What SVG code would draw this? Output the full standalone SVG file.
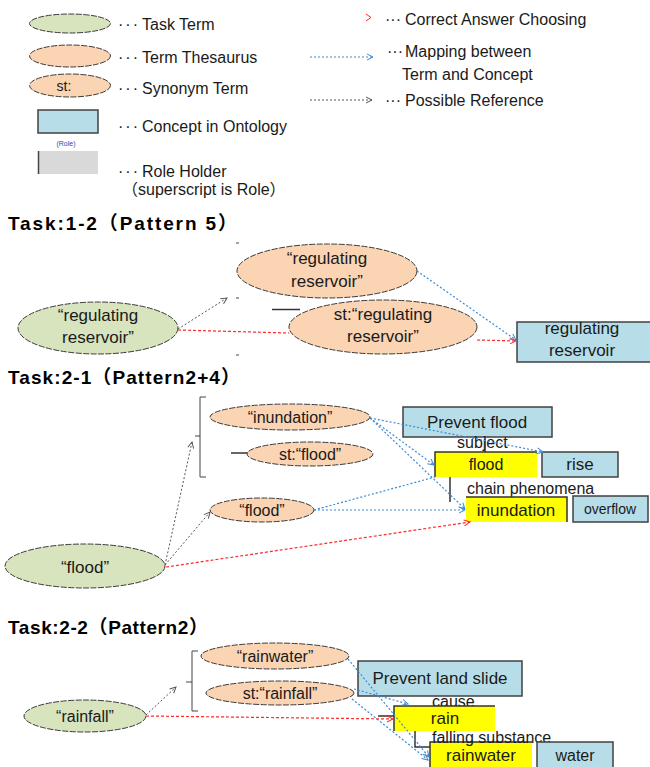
<svg xmlns="http://www.w3.org/2000/svg" width="650" height="767" viewBox="0 0 650 767">
<defs>
<style>
.t{font-family:"Liberation Sans","Noto Sans CJK JP",sans-serif;fill:#1a1a1a}
.s16{font-size:16px}.s17{font-size:17px}.s15{font-size:15px}.s14{font-size:14px}
.mid{text-anchor:middle}
.title{font-weight:bold;font-size:19px;fill:#000}
.task{fill:#d7e4bd;stroke:#3a3a3a;stroke-width:1;stroke-dasharray:6 1.5}
.thes{fill:#fbd4b4;stroke:#3a3a3a;stroke-width:1;stroke-dasharray:6 1.5}
.concept{fill:#b7dee8;stroke:#404040;stroke-width:1.5}
.holder{fill:#ffff00}
.edge{fill:none;stroke:#333;stroke-width:1.5}
.brk{fill:none;stroke:#444;stroke-width:1}
.ref{fill:none;stroke:#555;stroke-width:1;stroke-dasharray:2 2}
.map{fill:none;stroke:#3b8ad8;stroke-width:1.2;stroke-dasharray:2 2}
.ans{fill:none;stroke:#ff2a2a;stroke-width:1.2;stroke-dasharray:3 2}
</style>
<marker id="ag" viewBox="0 0 8 8" refX="7" refY="4" markerWidth="8" markerHeight="8" orient="auto" markerUnits="userSpaceOnUse"><path d="M1,1 L7,4 L1,7" fill="none" stroke="#555" stroke-width="1"/></marker>
<marker id="ab" viewBox="0 0 8 8" refX="7" refY="4" markerWidth="8" markerHeight="8" orient="auto" markerUnits="userSpaceOnUse"><path d="M1,1 L7,4 L1,7" fill="none" stroke="#3b8ad8" stroke-width="1"/></marker>
<marker id="ar" viewBox="0 0 8 8" refX="7" refY="4" markerWidth="8" markerHeight="8" orient="auto" markerUnits="userSpaceOnUse"><path d="M1,1 L7,4 L1,7" fill="none" stroke="#ff2a2a" stroke-width="1"/></marker>
</defs>
<rect width="650" height="767" fill="#ffffff"/>

<!-- Legend -->
<g id="legend">
<ellipse class="task" cx="70" cy="23.5" rx="40.5" ry="9.5"/>
<text class="t s16" x="118" y="30"><tspan letter-spacing="2">···</tspan><tspan x="142">Task Term</tspan></text>
<ellipse class="thes" cx="70" cy="56" rx="40.5" ry="11"/>
<text class="t s16" x="118" y="63"><tspan letter-spacing="2">···</tspan><tspan x="142">Term Thesaurus</tspan></text>
<ellipse class="thes" cx="70" cy="85.5" rx="40.5" ry="11.5"/>
<text class="t s14 mid" x="64" y="91">st:</text>
<text class="t s16" x="118" y="94"><tspan letter-spacing="2">···</tspan><tspan x="142">Synonym Term</tspan></text>
<rect class="concept" x="38" y="110" width="60" height="23"/>
<text class="t s16" x="118" y="132"><tspan letter-spacing="2">···</tspan><tspan x="142">Concept in Ontology</tspan></text>
<text class="t mid" x="66" y="146" style="font-size:7px;fill:#2a4aa8">(Role)</text>
<rect x="38" y="151" width="60" height="23" fill="#d9d9d9"/>
<path d="M38.5,151 L38.5,174" stroke="#444" stroke-width="1.5"/>
<text class="t s16" x="118" y="177"><tspan letter-spacing="2">···</tspan><tspan x="142">Role Holder</tspan></text>
<text class="t s16" x="122" y="195">（superscript is Role）</text>
<path d="M366,14 L371,17.5 L366,21" fill="none" stroke="#ff2a2a" stroke-width="1"/>
<text class="t s16" x="385" y="25">···<tspan x="405">Correct Answer Choosing</tspan></text>
<path class="map" d="M310,57 L373,57" marker-end="url(#ab)"/>
<text class="t s16" x="387" y="57">···<tspan x="405">Mapping between</tspan></text>
<text class="t s16" x="402" y="80">Term and Concept</text>
<path class="ref" d="M310,100 L372,100" marker-end="url(#ag)"/>
<text class="t s16" x="385" y="106">···<tspan x="405">Possible Reference</tspan></text>
</g>

<!-- Titles -->
<text class="t title" x="8" y="230" textLength="229" lengthAdjust="spacing">Task:1-2（Pattern 5）</text>
<text class="t title" x="8" y="384" textLength="232" lengthAdjust="spacing">Task:2-1（Pattern2+4）</text>
<text class="t title" x="8" y="634" textLength="200" lengthAdjust="spacing">Task:2-2（Pattern2）</text>

<!-- Task 1-2 -->
<g id="t12-bracket-marks">
<path class="brk" d="M236,243 L239,243 M236,298 L239,298 M236,355 L239,355"/>
<path class="edge" d="M272,309.5 L300,309.5"/>
</g>
<g id="t12-task">
<ellipse class="task" cx="98" cy="328" rx="80" ry="26"/>
<text class="t s17 mid" x="98" y="321">“regulating</text>
<text class="t s17 mid" x="98" y="343">reservoir”</text>
</g>
<g id="t12-thes">
<ellipse class="thes" cx="327" cy="271" rx="90" ry="27"/>
<text class="t s17 mid" x="327" y="264">“regulating</text>
<text class="t s17 mid" x="327" y="287">reservoir”</text>
</g>
<g id="t12-syn">
<ellipse class="thes" cx="383" cy="327" rx="94" ry="27"/>
<text class="t s17 mid" x="383" y="320">st:“regulating</text>
<text class="t s17 mid" x="383" y="342">reservoir”</text>
</g>
<g id="t12-concept">
<rect class="concept" x="517" y="322" width="135" height="40"/>
<text class="t s17 mid" x="582" y="334">regulating</text>
<text class="t s17 mid" x="582" y="356">reservoir</text>
</g>

<!-- Task 2-1 -->
<g id="t21-bracket">
<path class="brk" d="M206,397 L200,397 L200,477 L206,477 M200,436 L195,436"/>
<path class="edge" d="M231,453 L248,453"/>
</g>
<g id="t21-task">
<ellipse class="task" cx="85" cy="566" rx="80" ry="22"/>
<text class="t s17 mid" x="85" y="573">“flood”</text>
</g>
<g id="t21-thes-inundation">
<ellipse class="thes" cx="290" cy="417" rx="80" ry="13"/>
<text class="t s16 mid" x="290" y="423">“inundation”</text>
</g>
<g id="t21-syn-flood">
<ellipse class="thes" cx="310" cy="454" rx="63" ry="12"/>
<text class="t s16 mid" x="310" y="460">st:“flood”</text>
</g>
<g id="t21-thes-flood">
<ellipse class="thes" cx="262" cy="510" rx="52" ry="12"/>
<text class="t s16 mid" x="262" y="516">“flood”</text>
</g>
<g id="t21-prevent">
<rect class="concept" x="403" y="407" width="149" height="30"/>
<text class="t s17 mid" x="477" y="428">Prevent flood</text>
</g>
<text class="t s16" x="457" y="448">subject</text>
<path class="edge" d="M485,437 L485,452"/>
<g id="t21-flood">
<rect class="holder" x="435" y="452" width="102" height="25"/>
<path class="edge" d="M435,477 L435,452 L537,452"/>
<text class="t s16 mid" x="486" y="470">flood</text>
</g>
<g id="t21-rise">
<rect class="concept" x="542" y="452" width="76" height="25"/>
<text class="t s17 mid" x="580" y="470">rise</text>
</g>
<path class="edge" d="M450,477 L450,502"/>
<text class="t s16" x="467" y="494">chain phenomena</text>
<g id="t21-inundation">
<rect class="holder" x="466" y="497" width="101" height="25"/>
<path class="edge" d="M466,497 L567,497 L567,522"/>
<text class="t s17 mid" x="516" y="516">inundation</text>
</g>
<g id="t21-overflow">
<rect class="concept" x="573" y="496" width="75" height="26"/>
<text class="t s14 mid" x="610" y="514">overflow</text>
</g>

<!-- Task 2-2 -->
<g id="t22-bracket">
<path class="brk" d="M198,651 L192,651 L192,711 L198,711 M192,682 L186,682"/>
</g>
<g id="t22-task">
<ellipse class="task" cx="85" cy="716" rx="61" ry="16"/>
<text class="t s16 mid" x="85" y="722">“rainfall”</text>
</g>
<g id="t22-thes-rainwater">
<ellipse class="thes" cx="275" cy="656" rx="74" ry="13"/>
<text class="t s16 mid" x="275" y="662">“rainwater”</text>
</g>
<g id="t22-syn-rainfall">
<ellipse class="thes" cx="280" cy="693" rx="74" ry="12"/>
<text class="t s16 mid" x="280" y="699">st:“rainfall”</text>
</g>
<g id="t22-prevent">
<rect class="concept" x="358" y="661" width="164" height="35"/>
<text class="t s17 mid" x="440" y="684">Prevent land slide</text>
</g>
<text class="t s16" x="432" y="707">cause</text>
<g id="t22-rain">
<rect class="holder" x="394" y="706" width="101" height="25"/>
<path class="edge" d="M394,731 L394,706 L495,706"/>
<text class="t s17 mid" x="445" y="724">rain</text>
</g>
<path class="edge" d="M378,716 L394,716 M415,731 L415,747 L430,747"/>
<g id="t22-rainwater">
<rect class="holder" x="430" y="742" width="102" height="25"/>
<path class="edge" d="M430,767 L430,742 L532,742"/>
<text class="t s17 mid" x="481" y="761">rainwater</text>
</g>
<text class="t s16" x="432" y="743">falling substance</text>
<g id="t22-water">
<rect class="concept" x="537" y="742" width="76" height="26"/>
<text class="t s16 mid" x="575" y="761">water</text>
</g>

<!-- Connectors -->
<g id="connectors">
<path class="ref" d="M178,329 L227,298" marker-end="url(#ag)"/>
<path class="ans" d="M178,330 L289,333"/>
<path class="ans" d="M477,340 L516,341" marker-end="url(#ar)"/>
<path class="map" d="M417,271 L516,340" marker-end="url(#ab)"/>

<path class="ref" d="M165,565 L192,442" marker-end="url(#ag)"/>
<path class="ref" d="M165,565 L210,512" marker-end="url(#ag)"/>
<path class="ans" d="M166,567 L470,522" marker-end="url(#ar)"/>
<path class="map" d="M370,418 L543,452" marker-end="url(#ab)"/>
<path class="map" d="M370,418 L434,465" marker-end="url(#ab)"/>
<path class="map" d="M370,418 L465,509" marker-end="url(#ab)"/>
<path class="map" d="M314,510 L435,477"/>
<path class="map" d="M314,510 L465,510" marker-end="url(#ab)"/>

<path class="ref" d="M146,715 L176,687" marker-end="url(#ag)"/>
<path class="ans" d="M146,716 L393,719" marker-end="url(#ar)"/>
<path class="map" d="M348,659 L429,757" marker-end="url(#ab)"/>
<path class="map" d="M354,689 L408,704" marker-end="url(#ab)"/>
<path class="map" d="M352,699 L428,760" marker-end="url(#ab)"/>
</g>
</svg>
